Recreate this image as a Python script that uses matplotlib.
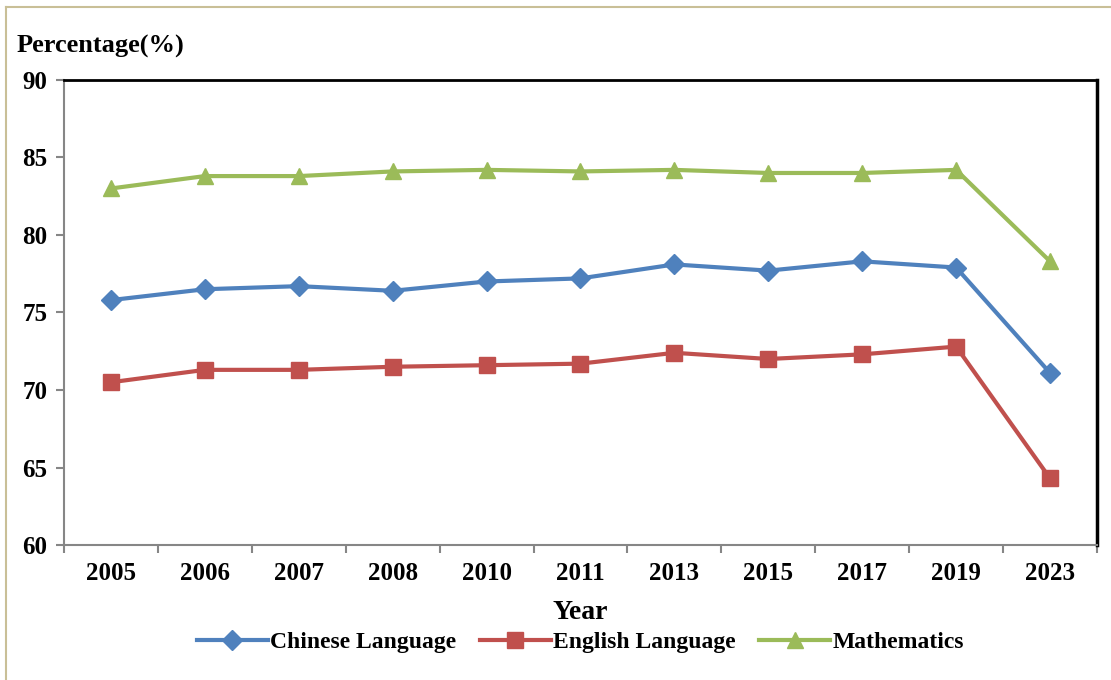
import matplotlib.pyplot as plt
from matplotlib.lines import Line2D

years = ["2005", "2006", "2007", "2008", "2010", "2011", "2013", "2015", "2017", "2019", "2023"]
chinese = [75.8, 76.5, 76.7, 76.4, 77.0, 77.2, 78.1, 77.7, 78.3, 77.9, 71.1]
english = [70.5, 71.3, 71.3, 71.5, 71.6, 71.7, 72.4, 72.0, 72.3, 72.8, 64.3]
maths = [83.0, 83.8, 83.8, 84.1, 84.2, 84.1, 84.2, 84.0, 84.0, 84.2, 78.3]

plt.rcParams['font.family'] = ['Liberation Serif', 'DejaVu Serif']
plt.rcParams['font.weight'] = 'bold'

fig = plt.figure(figsize=(11.11, 6.8), dpi=100)
ax = fig.add_axes([0.0576, 0.1985, 0.9298, 0.6839])

x = range(len(years))
ax.plot(x, chinese, color="#4F81BD", lw=3, marker="D", ms=10, label="Chinese Language")
ax.plot(x, english, color="#C0504D", lw=3, marker="s", ms=11, label="English Language")
ax.plot(x, maths, color="#9BBB59", lw=3, marker="^", ms=12, label="Mathematics")

ax.set_xlim(-0.5, len(years) - 0.5)
ax.set_ylim(60, 90)
ax.set_yticks(range(60, 91, 5))
ax.set_xticks(list(x))
ax.set_xticklabels(years, fontsize=18, fontweight="bold")
ax.set_xticks([i - 0.5 for i in range(len(years) + 1)], minor=True)
ax.tick_params(axis="x", which="major", length=0, pad=12)
ax.tick_params(axis="x", which="minor", length=6, color="#868686", width=1.5)
ax.tick_params(axis="y", length=6, color="#868686", width=1.5, labelsize=18, pad=6)
for lab in ax.get_yticklabels():
    lab.set_fontweight("bold")

ax.spines["left"].set_color("#868686")
ax.spines["bottom"].set_color("#868686")
ax.spines["left"].set_linewidth(1.5)
ax.spines["bottom"].set_linewidth(1.5)
ax.spines["top"].set_linewidth(2)
ax.spines["right"].set_linewidth(2.5)

ax.set_xlabel("Year", fontsize=20, fontweight="bold", labelpad=11)
fig.text(0.0153, 0.931, "Percentage(%)", fontsize=19, fontweight="bold", va="center")

ax.legend(loc="center", bbox_to_anchor=(0.5, -0.209), ncol=3, frameon=False,
          prop={"weight": "bold", "size": 17}, handlelength=3.0,
          columnspacing=1.0, handletextpad=0.1)

fig.add_artist(Line2D([0.0054, 0.0054], [0, 0.9897], color="#C9BF97", lw=1.5))
fig.add_artist(Line2D([0.0054, 1], [0.9897, 0.9897], color="#C9BF97", lw=1.5))

fig.savefig("out.png", dpi=100)
